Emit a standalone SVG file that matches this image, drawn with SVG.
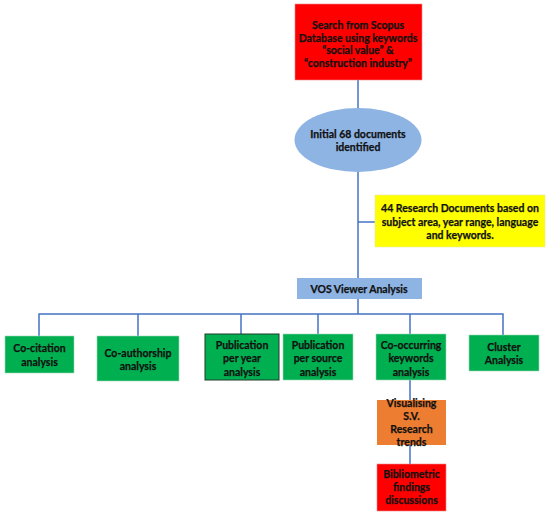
<svg xmlns="http://www.w3.org/2000/svg" width="550" height="514" viewBox="0 0 550 514">
<style>
.t{font-family:Lato,"Liberation Sans",sans-serif;font-weight:bold;font-size:10.5px;fill:#111;stroke:#111;stroke-width:0.25;text-anchor:middle}
.c{stroke:#4472C4;stroke-width:1.5;fill:none}
.g{fill:#00B050;stroke:#9fd8b5;stroke-width:0.6}
</style>
<rect width="550" height="514" fill="#fff"/>
<g id="connectors">
<line class="c" x1="358" y1="80" x2="358" y2="108"/>
<line class="c" x1="358" y1="172" x2="358" y2="278"/>
<line class="c" x1="358" y1="222" x2="375" y2="222"/>
<line class="c" x1="358" y1="299" x2="358" y2="314"/>
<polyline class="c" points="39,336 39,314 503,314 503,335"/>
<line class="c" x1="138" y1="314" x2="138" y2="336"/>
<line class="c" x1="241" y1="314" x2="241" y2="334"/>
<line class="c" x1="318" y1="314" x2="318" y2="334"/>
<line class="c" x1="410" y1="314" x2="410" y2="334"/>
<line class="c" x1="410" y1="380" x2="410" y2="400"/>
<line class="c" x1="410" y1="445" x2="410" y2="464"/>
</g>
<g id="search">
<rect x="295" y="4" width="127" height="76" fill="#FF0000" stroke="#e88" stroke-width="0.6"/>
<text class="t" x="358" y="29">Search from Scopus</text>
<text class="t" x="358" y="41.5">Database using keywords</text>
<text class="t" x="358" y="54">“social value” &amp;</text>
<text class="t" x="358" y="66.5">“construction industry”</text>
</g>
<g id="initial">
<ellipse cx="358" cy="140" rx="63.5" ry="32" fill="#8EB4E3"/>
<text class="t" x="358" y="138">Initial 68 documents</text>
<text class="t" x="358" y="151">identified</text>
</g>
<g id="filter">
<rect x="375" y="195" width="170" height="52" fill="#FFFF00" stroke="#e6e6a0" stroke-width="0.6"/>
<text class="t" x="460" y="212">44 Research Documents based on</text>
<text class="t" x="460" y="226">subject area, year range, language</text>
<text class="t" x="460" y="239">and keywords.</text>
</g>
<g id="vos">
<rect x="297" y="278" width="125" height="21" fill="#8EB4E3"/>
<text class="t" x="359" y="293">VOS Viewer Analysis</text>
</g>
<g id="cocitation">
<rect class="g" x="5" y="336" width="69" height="37"/>
<text class="t" x="39.5" y="352">Co-citation</text>
<text class="t" x="39.5" y="366">analysis</text>
</g>
<g id="coauthorship">
<rect class="g" x="97" y="336" width="82" height="45"/>
<text class="t" x="138" y="357">Co-authorship</text>
<text class="t" x="138" y="370">analysis</text>
</g>
<g id="pubyear">
<rect x="205" y="334" width="74" height="46" fill="#00B050" stroke="#1f3b2a" stroke-width="1"/>
<text class="t" x="242" y="349">Publication</text>
<text class="t" x="242" y="362">per year</text>
<text class="t" x="242" y="376">analysis</text>
</g>
<g id="pubsource">
<rect class="g" x="283" y="334" width="70" height="46"/>
<text class="t" x="318" y="349">Publication</text>
<text class="t" x="318" y="362">per source</text>
<text class="t" x="318" y="376">analysis</text>
</g>
<g id="cooccurring">
<rect class="g" x="376" y="334" width="70" height="46"/>
<text class="t" x="411" y="349">Co-occurring</text>
<text class="t" x="411" y="362">keywords</text>
<text class="t" x="411" y="376">analysis</text>
</g>
<g id="cluster">
<rect class="g" x="469" y="335" width="70" height="36"/>
<text class="t" x="504" y="351">Cluster</text>
<text class="t" x="504" y="364">Analysis</text>
</g>
<g id="visualising">
<rect x="377" y="400" width="69" height="45" fill="#ED7D31"/>
<text class="t" x="411.5" y="407">Visualising</text>
<text class="t" x="411.5" y="420">S.V.</text>
<text class="t" x="411.5" y="433">Research</text>
<text class="t" x="411.5" y="446">trends</text>
</g>
<g id="bibliometric">
<rect x="377" y="464" width="69" height="47" fill="#FF0000" stroke="#e88" stroke-width="0.6"/>
<text class="t" x="411.5" y="478">Bibliometric</text>
<text class="t" x="411.5" y="491">findings</text>
<text class="t" x="411.5" y="504">discussions</text>
</g>
</svg>
